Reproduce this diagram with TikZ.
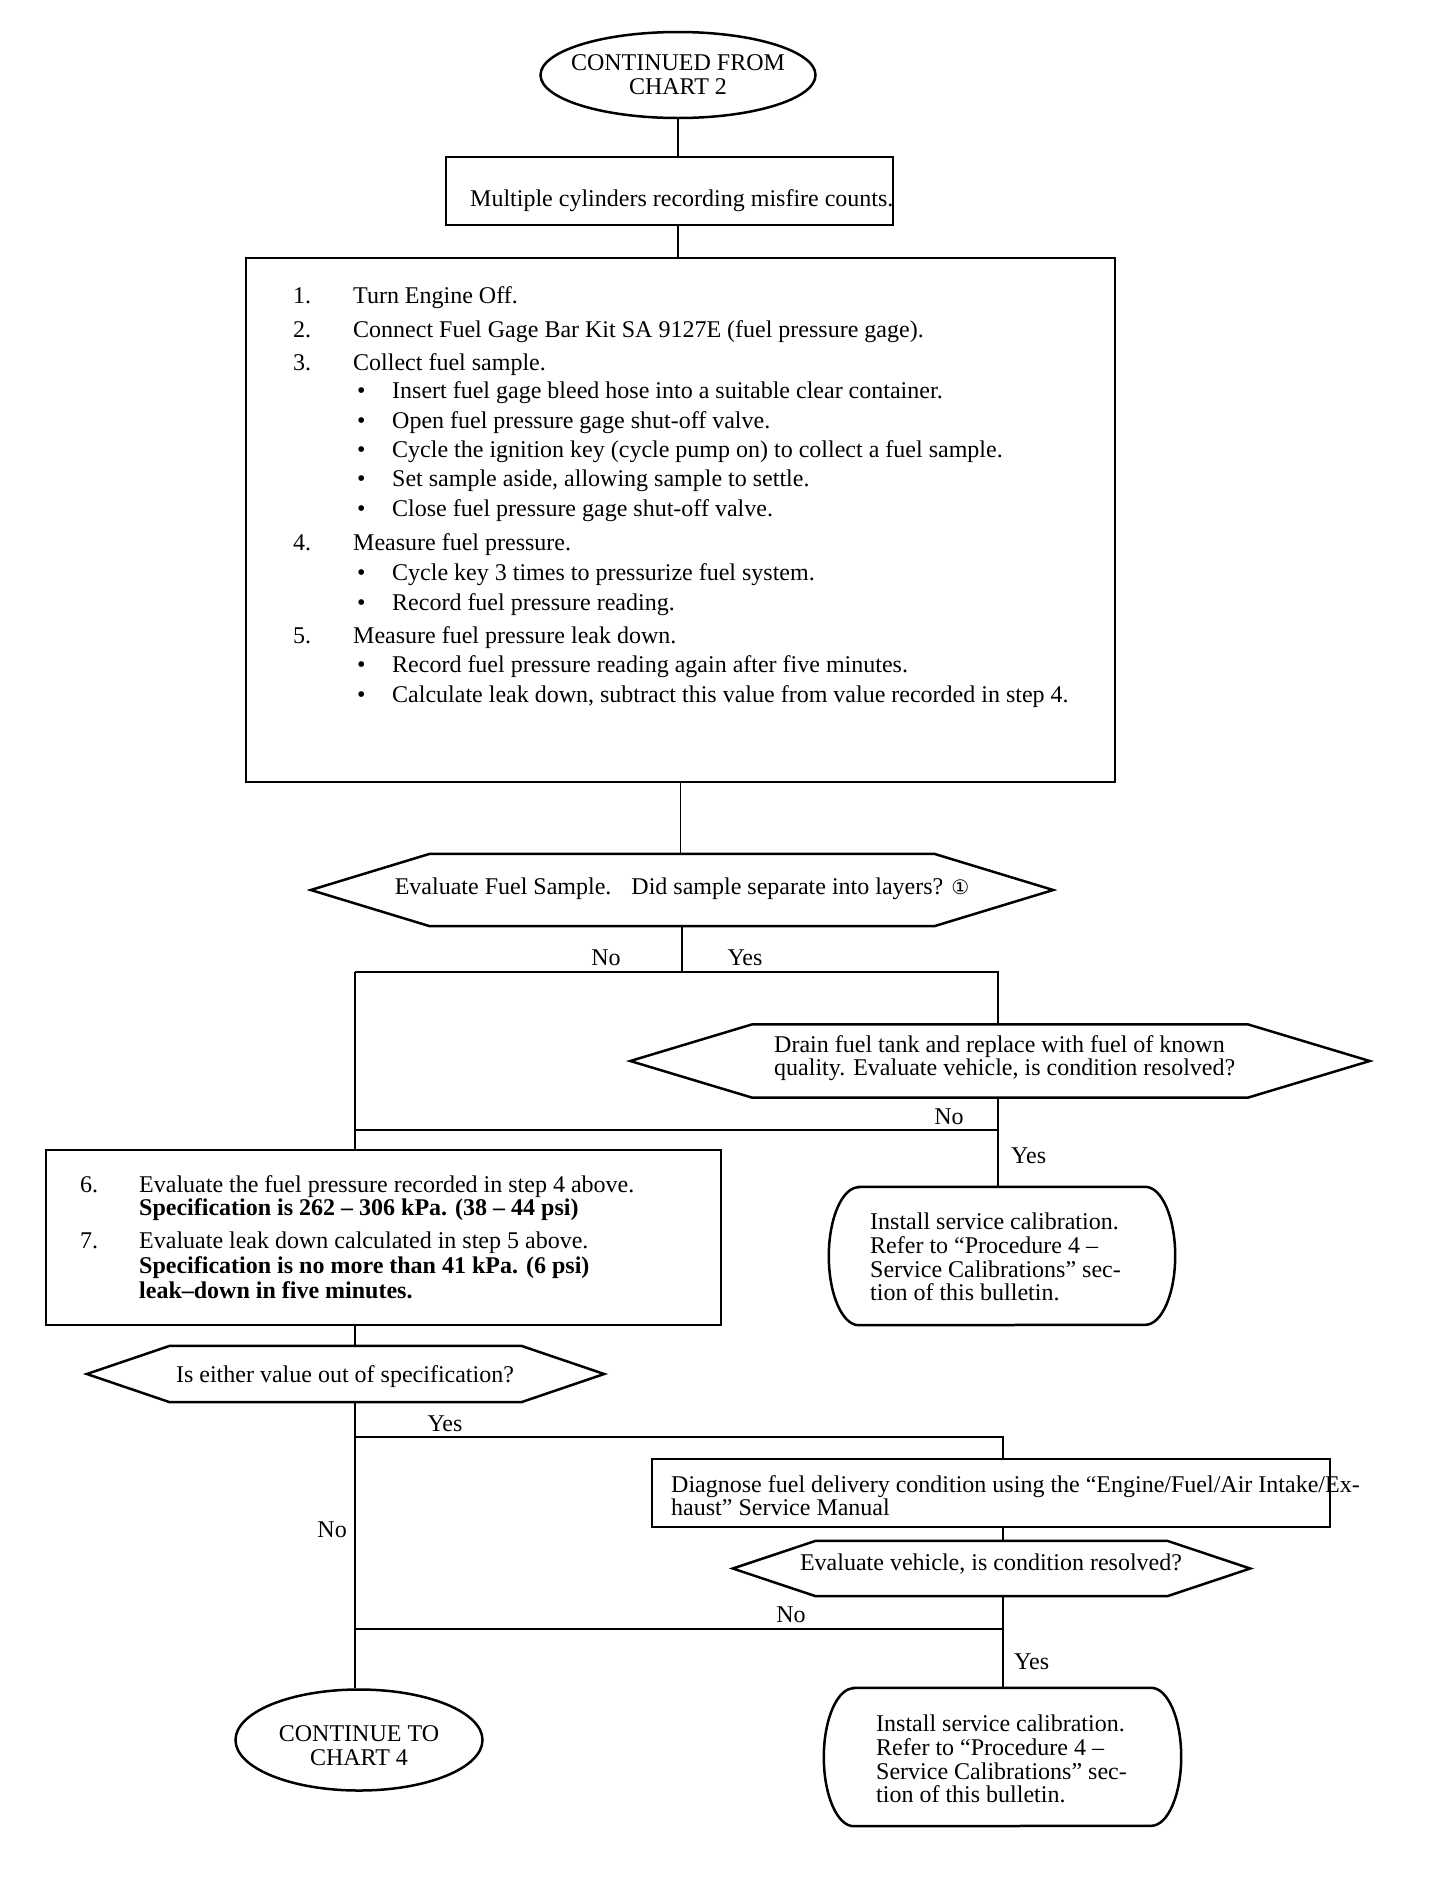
\documentclass[tikz,border=0pt]{standalone}
\usepackage{fontspec}
\setmainfont{Liberation Serif}
\newfontfamily\symfont{DejaVu Sans}
\usetikzlibrary{shapes.geometric,calc}
\newcommand\hexa[2]{\draw[shp] (#1.west) -- ($(#1.north west)+(#2,0)$) -- ($(#1.north east)+(-#2,0)$) -- (#1.east) -- ($(#1.south east)+(-#2,0)$) -- ($(#1.south west)+(#2,0)$) -- cycle;}
\newcommand\calib[3]{\draw[shp] ($(#1.north west)+(#2,0)$) -- ($(#1.north east)+(-#2,0)$) arc[start angle=90,end angle=-90,x radius=#2pt,y radius=#3pt] -- ($(#1.south west)+(#2,0)$) arc[start angle=270,end angle=90,x radius=#2pt,y radius=#3pt] -- cycle;}
\begin{document}
\begin{tikzpicture}[x=1pt,y=-1pt,
  shp/.style={draw,line width=2.5pt,line join=miter},
  conn/.style={draw,line width=1.8pt},
  ghost/.style={inner sep=0pt,draw=none},
  txt/.style={inner sep=0pt,anchor=west,font=\fontsize{24}{29}\selectfont,text height=16pt,text depth=5pt},
  mtxt/.style={inner sep=0pt,anchor=west,align=left,font=\fontsize{24}{#1}\selectfont},
  lbl/.style={inner sep=0pt,font=\fontsize{24}{29}\selectfont,text height=16pt,text depth=5pt}]
\useasboundingbox[fill=white] (0,0) rectangle (1440,1904);

% start terminal
\node[ellipse,shp,minimum width=275pt,minimum height=86pt,inner sep=0pt] (e1) at (678,75) {};
\node[inner sep=0pt,align=center,font=\fontsize{24}{24}\selectfont] (e1t) at (e1) {CONTINUED FROM\\CHART 2};

% box 1
\node[shp,inner sep=0pt,minimum width=447pt,minimum height=68pt] (b1) at (669.5,191) {};
\node[txt] (b1t) at (470,201) {Multiple cylinders recording misfire counts.};

% box 2
\node[shp,inner sep=0pt,minimum width=869pt,minimum height=524pt] (b2) at (680.5,520) {};
\node[txt] (s1) at (293,298) {\makebox[60pt][l]{1.}Turn Engine Off.};
\node[txt] (s2) at (293,332) {\makebox[60pt][l]{2.}Connect Fuel Gage Bar Kit SA 9127E (fuel pressure gage).};
\node[txt] (s3) at (293,365) {\makebox[60pt][l]{3.}Collect fuel sample.};
\node[txt] (s3a) at (357,393) {\makebox[35pt][l]{\textbullet}Insert fuel gage bleed hose into a suitable clear container.};
\node[txt] (s3b) at (357,423) {\makebox[35pt][l]{\textbullet}Open fuel pressure gage shut-off valve.};
\node[txt] (s3c) at (357,452) {\makebox[35pt][l]{\textbullet}Cycle the ignition key (cycle pump on) to collect a fuel sample.};
\node[txt] (s3d) at (357,481) {\makebox[35pt][l]{\textbullet}Set sample aside, allowing sample to settle.};
\node[txt] (s3e) at (357,511) {\makebox[35pt][l]{\textbullet}Close fuel pressure gage shut-off valve.};
\node[txt] (s4) at (293,545) {\makebox[60pt][l]{4.}Measure fuel pressure.};
\node[txt] (s4a) at (357,575) {\makebox[35pt][l]{\textbullet}Cycle key 3 times to pressurize fuel system.};
\node[txt] (s4b) at (357,605) {\makebox[35pt][l]{\textbullet}Record fuel pressure reading.};
\node[txt] (s5) at (293,638) {\makebox[60pt][l]{5.}Measure fuel pressure leak down.};
\node[txt] (s5a) at (357,667) {\makebox[35pt][l]{\textbullet}Record fuel pressure reading again after five minutes.};
\node[txt] (s5b) at (357,697) {\makebox[35pt][l]{\textbullet}Calculate leak down, subtract this value from value recorded in step 4.};

% decision 1
\node[ghost,minimum width=742pt,minimum height=72pt] (d1) at (682,890) {};
\hexa{d1}{119}
\node[lbl] (d1t) at (682,889) {Evaluate Fuel Sample.\hspace{0.5em} Did sample separate into layers? {\symfont\fontsize{20}{24}\selectfont ①}};

% decision 2
\node[ghost,minimum width=739pt,minimum height=73pt] (d2) at (1000,1061) {};
\hexa{d2}{122}
\node[mtxt=23] (d2t) at (774,1058) {Drain fuel tank and replace with fuel of known\\quality. Evaluate vehicle, is condition resolved?};

% calibration 1
\node[ghost,minimum width=346pt,minimum height=138pt] (c1) at (1002,1256) {};
\calib{c1}{30}{69}
\node[mtxt=23.7] (c1t) at (870,1257) {Install service calibration.\\Refer to “Procedure 4 –\\Service Calibrations” sec-\\tion of this bulletin.};

% box 3
\node[shp,inner sep=0pt,minimum width=675pt,minimum height=175pt] (b3) at (383.5,1237.5) {};
\node[txt] (r6) at (80,1187) {\makebox[59pt][l]{6.}Evaluate the fuel pressure recorded in step 4 above.};
\node[txt] (r6b) at (139,1210) {\bfseries Specification is 262 – 306 kPa. (38 – 44 psi)};
\node[txt] (r7) at (80,1243) {\makebox[59pt][l]{7.}Evaluate leak down calculated in step 5 above.};
\node[txt] (r7b) at (139,1268) {\bfseries Specification is no more than 41 kPa. (6 psi)};
\node[txt] (r7c) at (139,1293) {\bfseries leak–down in five minutes.};

% decision 3
\node[ghost,minimum width=517pt,minimum height=56pt] (d3) at (345.5,1374) {};
\hexa{d3}{83}
\node[lbl] (d3t) at (345,1377) {Is either value out of specification?};

% box 4
\node[shp,inner sep=0pt,minimum width=678pt,minimum height=68pt] (b4) at (991,1493) {};
\node[mtxt=23] (b4t) at (671,1496) {Diagnose fuel delivery condition using the “Engine/Fuel/Air Intake/Ex-\\haust” Service Manual};

% decision 4
\node[ghost,minimum width=517pt,minimum height=55pt] (d4) at (991.5,1568.5) {};
\hexa{d4}{83}
\node[lbl] (d4t) at (991,1565) {Evaluate vehicle, is condition resolved?};

% end terminal
\node[ellipse,shp,minimum width=247pt,minimum height=101pt,inner sep=0pt] (e2) at (359,1740) {};
\node[inner sep=0pt,align=center,font=\fontsize{24}{24}\selectfont] (e2t) at (359,1746) {CONTINUE TO\\CHART 4};

% calibration 2
\node[ghost,minimum width=357pt,minimum height=138pt] (c2) at (1002.5,1757) {};
\calib{c2}{30}{69}
\node[mtxt=23.7] (c2t) at (876,1759) {Install service calibration.\\Refer to “Procedure 4 –\\Service Calibrations” sec-\\tion of this bulletin.};

% junction coordinates
\coordinate (j1) at (682,972);
\coordinate (j1l) at (355,972);
\coordinate (j1r) at (998,972);
\coordinate (j2l) at (355,1130);
\coordinate (j2r) at (998,1130);
\coordinate (j3l) at (355,1437);
\coordinate (j3r) at (1003,1437);
\coordinate (j4l) at (355,1629);
\coordinate (j4r) at (1003,1629);

% connectors
\draw[conn] (e1.south) -- (e1.south |- b1.north);
\draw[conn] (e1.south |- b1.south) -- (e1.south |- b2.north);
\draw[conn] (b2.south) -- (b2.south |- d1.north);
\draw[conn] (d1.south) -- (j1);
\draw[conn] (j1l) -- (j1r) -- (j1r |- d2.north);
\draw[conn] (j1r |- d2.south) -- (j1r |- c1.north);
\draw[conn] (j2r) -- (j2l);
\draw[conn] (j1l) -- (j1l |- b3.north);
\draw[conn] (j1l |- b3.south) -- (j1l |- d3.north);
\draw[conn] (j1l |- d3.south) -- (j1l |- e2.north);
\draw[conn] (j3l) -- (j3r) -- (j3r |- b4.north);
\draw[conn] (j3r |- b4.south) -- (j3r |- d4.north);
\draw[conn] (j3r |- d4.south) -- (j3r |- c2.north);
\draw[conn] (j4r) -- (j4l);

% labels
\node[lbl] (l1) at (606,960) {No};
\node[lbl] (l2) at (745,960) {Yes};
\node[lbl] (l3) at (949,1119) {No};
\node[lbl,anchor=west] (l4) at (1011,1158) {Yes};
\node[lbl] (l5) at (445,1426) {Yes};
\node[lbl,anchor=east] (l6) at (347,1532) {No};
\node[lbl] (l7) at (791,1617) {No};
\node[lbl,anchor=west] (l8) at (1014,1664) {Yes};
\end{tikzpicture}
\end{document}
